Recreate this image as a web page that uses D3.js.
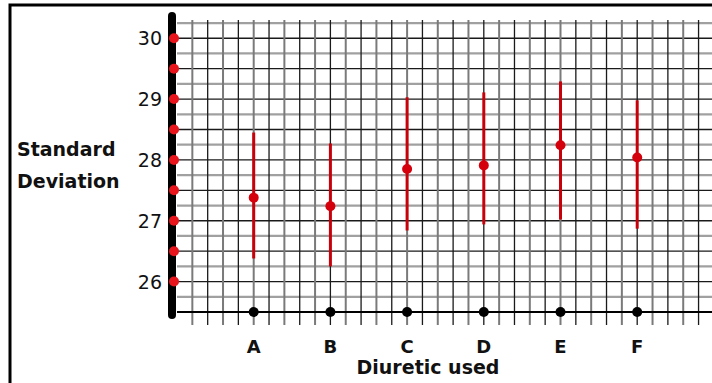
<!DOCTYPE html>
<html>
<head>
<meta charset="utf-8">
<script src="https://cdn.jsdelivr.net/npm/d3@7"></script>
<style>
  body { margin: 0; background: #fff; }
  svg { display: block; }
  text { font-family: "Comic Sans MS", "DejaVu Sans", sans-serif; fill: #111; }
</style>
</head>
<body>
<div id="container"></div>
<script>
const diuretics = ['A', 'B', 'C', 'D', 'E', 'F'];
const meanSD = [27.38, 27.24, 27.85, 27.91, 28.24, 28.04];
const lowSD = [26.38, 26.25, 26.84, 26.94, 27.02, 26.87];
const highSD = [28.45, 28.27, 29.03, 29.11, 29.29, 28.98];
const yTicks = [26, 27, 28, 29, 30];
const axisMarks = [26, 26.5, 27, 27.5, 28, 28.5, 29, 29.5, 30];

const width = 712, height = 383;
const svg = d3.select('#container').append('svg')
  .attr('width', width)
  .attr('height', height);

// outer frame (runs off the right and bottom edges like the scan)
svg.append('rect')
  .attr('x', 10).attr('y', 5)
  .attr('width', 740).attr('height', 420)
  .attr('fill', 'none')
  .attr('stroke', '#000')
  .attr('stroke-width', 3);

const x = d3.scaleLinear().domain([0, 7.2]).range([177, 177 + 7.2 * 76.7]);
const y = d3.scaleLinear().domain([25.5, 30.3]).range([312, 20]);
const xCat = d => x(diuretics.indexOf(d) + 1);

// grid paper
const grid = svg.append('g');
const hLines = d3.range(25.75, 30.3, 0.25);
grid.selectAll('line.h')
  .data(hLines)
  .join('line')
    .attr('x1', x(0)).attr('x2', width)
    .attr('y1', d => y(d)).attr('y2', d => y(d))
    .attr('stroke', d => (d * 2) % 1 === 0 ? '#1a1a1a' : '#a0a0a0')
    .attr('stroke-width', d => (d * 2) % 1 === 0 ? 1.3 : 2.2);

const vLines = d3.range(1, 36).map(i => i / 5);
grid.selectAll('line.v')
  .data(vLines)
  .join('line')
    .attr('x1', d => x(d)).attr('x2', d => x(d))
    .attr('y1', y(30.3)).attr('y2', 325)
    .attr('stroke', (d, i) => i % 2 === 0 ? '#7a7a7a' : '#1a1a1a')
    .attr('stroke-width', (d, i) => i % 2 === 0 ? 2 : 1.3);

// x axis baseline
svg.append('line')
  .attr('x1', x(0)).attr('x2', width)
  .attr('y1', y(25.5)).attr('y2', y(25.5))
  .attr('stroke', '#000').attr('stroke-width', 1.8);

// thick y axis
svg.append('line')
  .attr('x1', 172).attr('x2', 172)
  .attr('y1', 16).attr('y2', 315)
  .attr('stroke', '#000')
  .attr('stroke-width', 8)
  .attr('stroke-linecap', 'round');

svg.append('g')
  .selectAll('circle')
  .data(axisMarks)
  .join('circle')
    .attr('cx', 174)
    .attr('cy', d => y(d))
    .attr('r', 5)
    .attr('fill', '#e8141c');

svg.append('g')
  .selectAll('text')
  .data(yTicks)
  .join('text')
    .attr('x', 162)
    .attr('y', d => y(d) + 7)
    .attr('text-anchor', 'end')
    .attr('font-size', 19)
    .text(d => d);

// error bars
const bars = svg.append('g');
bars.selectAll('line')
  .data(diuretics)
  .join('line')
    .attr('x1', d => xCat(d)).attr('x2', d => xCat(d))
    .attr('y1', (d, i) => y(lowSD[i]))
    .attr('y2', (d, i) => y(highSD[i]))
    .attr('stroke', '#c8000a')
    .attr('stroke-width', 3);

bars.selectAll('circle')
  .data(diuretics)
  .join('circle')
    .attr('cx', d => xCat(d))
    .attr('cy', (d, i) => y(meanSD[i]))
    .attr('r', 5)
    .attr('fill', '#d4000c');

// category dots on x axis
svg.append('g')
  .selectAll('circle')
  .data(diuretics)
  .join('circle')
    .attr('cx', d => xCat(d))
    .attr('cy', y(25.5))
    .attr('r', 5)
    .attr('fill', '#000');

svg.append('g')
  .selectAll('text')
  .data(diuretics)
  .join('text')
    .attr('x', d => xCat(d))
    .attr('y', 353)
    .attr('text-anchor', 'middle')
    .attr('font-size', 18)
    .attr('font-weight', 'bold')
    .text(d => d);

svg.append('text')
  .attr('x', 428).attr('y', 374)
  .attr('text-anchor', 'middle')
  .attr('font-size', 19)
  .attr('font-weight', 'bold')
  .text('Diuretic used');

svg.append('text')
  .attr('x', 17).attr('y', 156)
  .attr('font-size', 19)
  .attr('font-weight', 'bold')
  .text('Standard');

svg.append('text')
  .attr('x', 17).attr('y', 188)
  .attr('font-size', 19)
  .attr('font-weight', 'bold')
  .text('Deviation');
</script>
</body>
</html>
